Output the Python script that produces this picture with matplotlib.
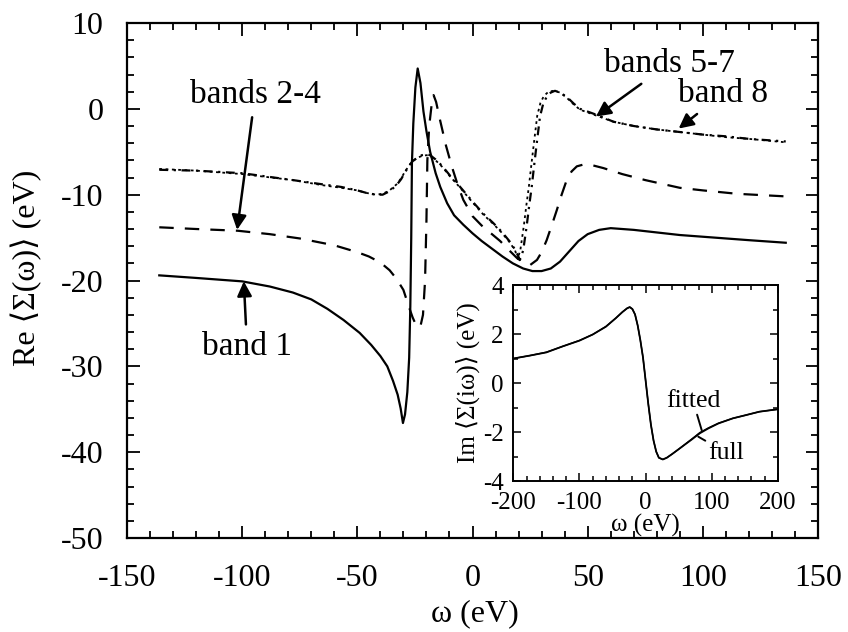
import matplotlib
matplotlib.use("Agg")
import matplotlib.pyplot as plt
from matplotlib.ticker import MultipleLocator

plt.rcParams['font.family'] = ['Liberation Serif', 'DejaVu Serif']
plt.rcParams['axes.unicode_minus'] = False
plt.rcParams['mathtext.fontset'] = 'stix'

# ---------------- data ----------------
band1_x = [-136, -120, -100, -88, -78, -70, -63, -56, -49, -44, -40, -37, -34.5, -32.5, -31.2, -30.2,
           -29.3, -28.3, -27.5, -27.0, -26.6, -26.3, -25.7, -24.8, -23.8, -22.6, -21.3, -20, -18.4, -16,
           -14, -11, -8, -4, 0, 4, 9, 13, 17.5, 22, 26, 30, 34, 38, 42, 46, 50, 55, 60, 70, 80, 90,
           100, 110, 120, 136]
band1_y = [-19.4, -19.7, -20.1, -20.7, -21.4, -22.2, -23.3, -24.6, -26.1, -27.5, -28.8, -30.0, -31.7,
           -33.3, -34.9, -36.6, -35.6, -33.0, -29.0, -23.0, -15.0, -6.3, -1.7, 2.5, 4.7, 3.0, -0.3, -2.6,
           -5.0, -7.5, -9.1, -11.0, -12.4, -13.5, -14.5, -15.4, -16.4, -17.2, -18.0, -18.6, -18.9, -18.9,
           -18.6, -17.8, -16.6, -15.4, -14.6, -14.1, -13.9, -14.1, -14.4, -14.7, -14.9, -15.1, -15.3, -15.6]

bands24_x = [-136, -120, -102, -88, -75, -60, -50, -45, -40, -36, -33, -30, -27.7, -26, -24.5, -23.5,
             -22.5, -21.5, -20.6, -20.0, -19.6, -18.8, -17.7, -16.9, -15.8, -14.1, -11.5, -9, -6.5, -4,
             0, 4, 8, 12, 16, 19, 22, 25, 28, 30, 32.2, 34.5, 36.6, 38.7, 40.9, 43, 45.3, 48, 51, 56.8,
             65, 75, 90, 100, 115, 136]
bands24_y = [-13.8, -14.0, -14.2, -14.6, -15.1, -15.9, -16.7, -17.2, -17.9, -18.8, -19.8, -21.1, -23.0,
             -24.3, -25.2, -25.5, -25.2, -24.0, -20.0, -13.0, -6.0, -2.0, 0.6, 1.6, 0.8, -1.3, -4.3,
             -6.7, -8.8, -10.6, -12.5, -13.6, -14.5, -15.4, -16.5, -17.3, -17.9, -18.2, -17.6, -16.7,
             -15.3, -13.5, -11.8, -10.0, -8.3, -7.3, -6.7, -6.5, -6.5, -6.9, -7.6, -8.3, -9.2, -9.5,
             -9.9, -10.2]

bands57_x = [-136, -120, -100, -78, -65, -57, -50, -46, -42, -39, -36, -33, -31, -29.3, -27.5, -26, -24,
             -22, -20, -18.4, -16, -13, -10, -6, -2.5, 1, 5, 9, 12.6, 16, 18.5, 20.6, 22, 23.5, 24.6,
             25.7, 26.8, 27.9, 29.3, 30.7, 32.2, 34, 35.8, 38, 40.9, 44, 46.7, 53.9, 61.2, 70, 80, 90,
             100, 110, 120, 136]
bands57_y = [-7.1, -7.2, -7.5, -8.3, -8.8, -9.1, -9.5, -9.8, -10.0, -10.0, -9.6, -8.9, -8.2, -7.4, -6.6,
             -6.1, -5.7, -5.4, -5.3, -5.4, -5.9, -6.7, -7.7, -8.9, -10.0, -11.1, -12.3, -13.3, -14.3,
             -15.4, -16.4, -17.6, -16.5, -13.7, -11.3, -9.1, -6.5, -4.0, -0.9, 0.6, 1.4, 1.9, 2.1, 1.9,
             1.4, 0.6, 0.0, -0.7, -1.5, -2.0, -2.4, -2.7, -3.0, -3.2, -3.5, -3.8]

band8_x = [-136, -120, -100, -78, -65, -57, -50, -46, -42, -39, -36, -33, -31, -29.3, -27.5, -26, -24,
           -22, -20, -18.4, -16, -13, -10, -6, -2.5, 1, 5, 9, 12.6, 16, 18.5, 19.6, 20.8, 22.3, 23.4,
           24.5, 25.6, 26.7, 28.1, 29.5, 31.0, 33.0, 35.2, 38, 40.9, 44, 46.7, 53.9, 61.2, 70, 80, 90,
           100, 110, 120, 136]
band8_y = [-7.0, -7.2, -7.6, -8.3, -8.9, -9.2, -9.5, -9.8, -10.0, -9.9, -9.5, -8.8, -8.1, -7.3, -6.6,
           -6.1, -5.7, -5.5, -5.4, -5.5, -6.0, -6.8, -7.8, -9.0, -10.1, -11.2, -12.4, -13.4, -14.4,
           -15.5, -16.5, -17.5, -16.4, -13.6, -11.2, -9.0, -6.4, -3.9, -0.8, 0.7, 1.5, 2.0, 2.1, 1.9,
           1.3, 0.5, -0.1, -0.8, -1.5, -2.0, -2.4, -2.7, -3.0, -3.3, -3.5, -3.9]

inset_x = [-200, -175, -150, -125, -100, -80, -60, -45, -35, -28, -24, -20, -16, -12, -8, -4, 0, 4, 8,
           12, 16, 20, 26, 32, 40, 50, 60, 70, 82, 95, 110, 132, 150, 172, 200]
inset_full = [1.0, 1.12, 1.25, 1.5, 1.73, 1.98, 2.3, 2.65, 2.9, 3.05, 3.1, 3.02, 2.8, 2.35, 1.75, 1.05,
              0.1, -0.85, -1.7, -2.35, -2.8, -3.05, -3.12, -3.05, -2.9, -2.7, -2.5, -2.3, -2.05, -1.85,
              -1.65, -1.44, -1.32, -1.17, -1.07]
inset_fitted = [1.0, 1.12, 1.26, 1.5, 1.74, 1.98, 2.31, 2.65, 2.9, 3.05, 3.1, 3.02, 2.8, 2.35, 1.75, 1.05,
                0.1, -0.85, -1.7, -2.35, -2.8, -3.05, -3.12, -3.05, -2.9, -2.7, -2.49, -2.28, -2.02,
                -1.83, -1.64, -1.44, -1.32, -1.17, -1.07]

main_xticks = [-150, -100, -50, 0, 50, 100, 150]
main_yticks = [-50, -40, -30, -20, -10, 0, 10]
inset_xticks = [-200, -100, 0, 100, 200]
inset_yticks = [-4, -2, 0, 2, 4]

# ---------------- figure ----------------
fig = plt.figure(figsize=(8.48, 6.32), dpi=100)
ax = fig.add_axes([0.1498, 0.1487, 0.8148, 0.8149])

lw = 1.6
ax.plot(band1_x, band1_y, color='k', lw=lw, ls='-')
ax.plot(bands24_x, bands24_y, color='k', lw=lw, ls=(0, (6.5, 5)))
ax.plot(bands57_x, bands57_y, color='k', lw=lw, ls=(0, (4, 2.5, 1, 2.5)))
ax.plot(band8_x, band8_y, color='k', lw=1.3, ls=(0, (1.5, 2)))

ax.set_xlim(-150, 150)
ax.set_ylim(-50, 10)
ax.set_xticks(main_xticks)
ax.set_yticks(main_yticks)
ax.set_xticklabels([str(v) for v in main_xticks])
ax.set_yticklabels([str(v) for v in main_yticks])
ax.xaxis.set_minor_locator(MultipleLocator(10))
ax.yaxis.set_minor_locator(MultipleLocator(2))
ax.tick_params(which='both', direction='in', top=True, right=True, width=1.3, colors='k')
ax.tick_params(which='major', length=9, labelsize=23)
ax.tick_params(axis='x', which='major', pad=19)
ax.tick_params(axis='y', which='major', pad=17)
ax.tick_params(which='minor', length=5)
for s in ax.spines.values():
    s.set_linewidth(1.6)

ax.set_xlabel('ω (eV)', fontsize=23)
ax.set_ylabel('Re ⟨Σ(ω)⟩ (eV)', fontsize=23)
ax.xaxis.set_label_coords(0.504, -0.118)
ax.yaxis.set_label_coords(-0.123, 0.524)

arrow = dict(arrowstyle='-|>', color='k', lw=1.8, mutation_scale=22, shrinkA=3, shrinkB=0)
ax.annotate('bands 2-4', xy=(-102.2, -14.1), xytext=(-94.4, 1.6), fontsize=24,
            ha='center', va='center', arrowprops=arrow)
ax.annotate('band 1', xy=(-99.3, -20.1), xytext=(-97.9, -27.7), fontsize=24,
            ha='center', va='center', arrowprops=arrow)
ax.annotate('bands 5-7', xy=(53.6, -0.9), xytext=(85.6, 5.3), fontsize=24,
            ha='center', va='center', arrowprops=arrow)
ax.annotate('band 8', xy=(89.5, -2.3), xytext=(108.8, 1.8), fontsize=24,
            ha='center', va='center', arrowprops=arrow)

# ---------------- inset ----------------
ins = fig.add_axes([0.6053, 0.2389, 0.3121, 0.3101])
ins.plot(inset_x, inset_full, color='k', lw=1.3)
ins.plot(inset_x, inset_fitted, color='k', lw=1.0)
ins.set_xlim(-200, 200)
ins.set_ylim(-4, 4)
ins.set_xticks(inset_xticks)
ins.set_yticks(inset_yticks)
ins.set_xticklabels([str(v) for v in inset_xticks])
ins.set_yticklabels([str(v) for v in inset_yticks])
ins.xaxis.set_minor_locator(MultipleLocator(20))
ins.yaxis.set_minor_locator(MultipleLocator(1))
ins.tick_params(which='both', direction='in', top=True, right=True, width=1.1, colors='k')
ins.tick_params(which='major', length=6, labelsize=18)
ins.tick_params(axis='x', which='major', pad=8)
ins.tick_params(axis='y', which='major', pad=7)
ins.tick_params(which='minor', length=3.5)
for s in ins.spines.values():
    s.set_linewidth(1.4)
ins.set_xlabel('ω (eV)', fontsize=18)
ins.set_ylabel('Im ⟨Σ(iω)⟩ (eV)', fontsize=18)
ins.xaxis.set_label_coords(0.5, -0.17)
ins.yaxis.set_label_coords(-0.126, 0.5)

small = dict(arrowstyle='-', color='k', lw=1.4, shrinkA=0, shrinkB=0)
ins.annotate('fitted', xy=(84.7, -1.92), xytext=(71.6, -0.73), fontsize=18.5,
             ha='center', va='center', arrowprops=small)
ins.annotate('full', xy=(79.6, -2.19), xytext=(121.4, -2.84), fontsize=18.5,
             ha='center', va='center', arrowprops=small)

fig.savefig('out.png', dpi=100, facecolor='white')
